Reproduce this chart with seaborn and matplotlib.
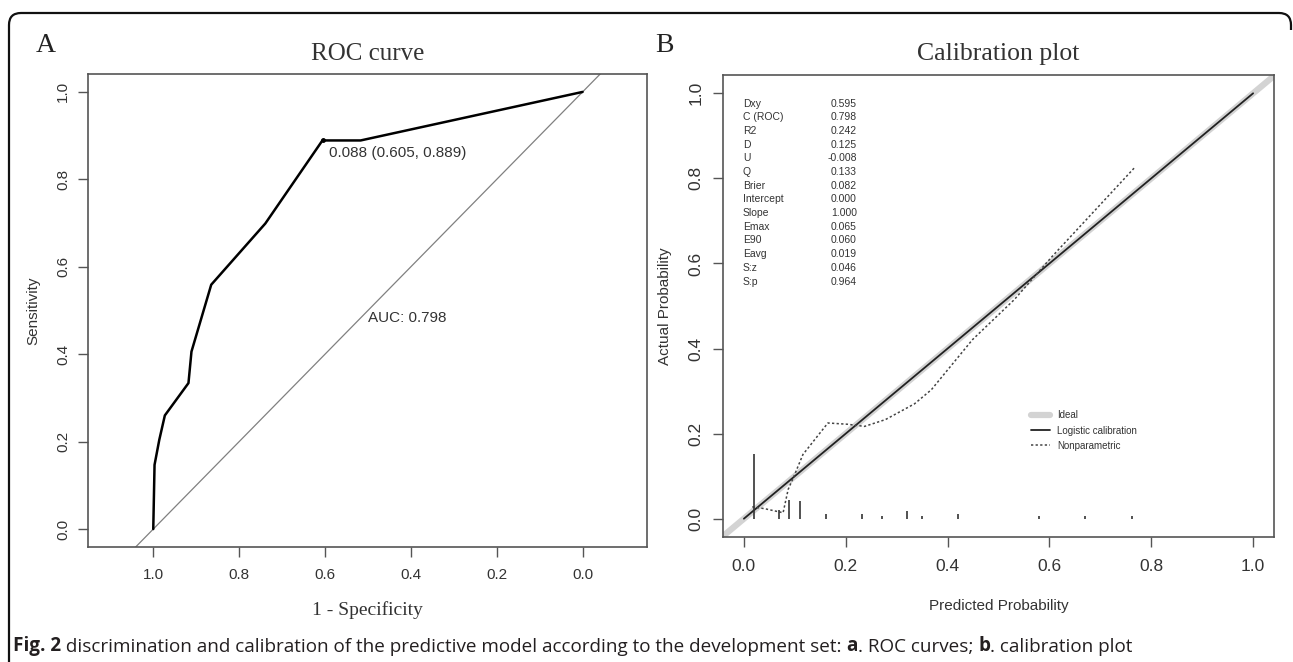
import numpy as np
import pandas as pd
import seaborn as sns
import matplotlib.pyplot as plt
from matplotlib.path import Path
from matplotlib.patches import PathPatch

# ROC curve (panel A)
roc_spec = [1.0, 0.997, 0.986, 0.973, 0.918, 0.911, 0.865, 0.739, 0.606, 0.517, 0.0]
roc_sens = [0.0, 0.147, 0.204, 0.260, 0.334, 0.406, 0.559, 0.699, 0.889, 0.889, 1.0]
best_thr, best_spec, best_sens = 0.088, 0.605, 0.889
auc = 0.798

# calibration (panel B)
np_pred = [0.0165, 0.041, 0.077, 0.087, 0.097, 0.116, 0.165, 0.204, 0.237, 0.278,
           0.335, 0.368, 0.449, 0.531, 0.605, 0.767]
np_obs = [0.028, 0.0235, 0.014, 0.069, 0.096, 0.151, 0.225, 0.222, 0.217, 0.233,
          0.270, 0.303, 0.421, 0.515, 0.616, 0.825]
logit_pred = [0.0, 1.0]
logit_obs = [0.0, 1.0]
spike_x = [0.019, 0.0695, 0.088, 0.1105, 0.161, 0.231, 0.2715, 0.32, 0.35, 0.421, 0.5805, 0.670, 0.762]
spike_h = [0.151, 0.020, 0.043, 0.042, 0.010, 0.010, 0.006, 0.017, 0.006, 0.010, 0.006, 0.006, 0.006]
stat_names = ["Dxy", "C (ROC)", "R2", "D", "U", "Q", "Brier", "Intercept", "Slope",
              "Emax", "E90", "Eavg", "S:z", "S:p"]
stat_vals = ["0.595", "0.798", "0.242", "0.125", "-0.008", "0.133", "0.082", "0.000",
             "1.000", "0.065", "0.060", "0.019", "0.046", "0.964"]
ticks = [0.0, 0.2, 0.4, 0.6, 0.8, 1.0]

sns.set_style("ticks")
plt.rcParams['font.family'] = ['Liberation Sans', 'DejaVu Sans']
serif = ['Liberation Serif', 'DejaVu Serif']
dark = "#333333"
spine_c = "#555555"

fig = plt.figure(figsize=(12.93, 6.62), dpi=100)
W, H = 1293, 662
axA = fig.add_axes([88 / W, 1 - 547 / H, 559 / W, 473 / H])
axB = fig.add_axes([723 / W, 1 - 537 / H, 551 / W, 462 / H])

for ax in (axA, axB):
    for s in ax.spines.values():
        s.set_color(spine_c)
        s.set_linewidth(1.2)
    ax.tick_params(length=7, width=1, color=spine_c, labelcolor=dark)

# ---- panel A
roc = pd.DataFrame({"spec": roc_spec, "sens": roc_sens})
diag = np.array([1.3, -0.3])
sns.lineplot(x=diag, y=1 - diag, ax=axA, color="#808080", linewidth=0.9)
sns.lineplot(data=roc, x="spec", y="sens", sort=False, estimator=None, ax=axA,
             color="black", linewidth=1.8)
axA.plot([best_spec], [best_sens], "o", color="black", ms=2.5)
axA.text(best_spec - 0.015, best_sens - 0.012, f"{best_thr:.3f} ({best_spec:.3f}, {best_sens:.3f})",
         ha="left", va="top", fontsize=11, color=dark)
axA.text(0.5, 0.483, f"AUC: {auc:.3f}", ha="left", va="center", fontsize=11, color=dark)
axA.set_xlim(1.152, -0.150)
axA.set_ylim(-0.041, 1.041)
axA.set_xticks(ticks)
axA.set_yticks(ticks)
axA.set_xticklabels([f"{t:.1f}" for t in ticks], fontsize=11)
axA.set_yticklabels([f"{t:.1f}" for t in ticks], fontsize=11, rotation=90, va="center")
axA.tick_params(axis="x", pad=8)
axA.tick_params(axis="y", pad=6)
axA.set_xlabel("1 - Specificity", family=serif, fontsize=14, color=dark, labelpad=14)
axA.set_ylabel("Sensitivity", fontsize=11, color=dark, labelpad=11)
axA.set_title("ROC curve", family=serif, fontsize=18, color=dark, pad=10)

# ---- panel B
sns.lineplot(x=[-0.1, 1.1], y=[-0.1, 1.1], ax=axB, color="#d3d3d3", linewidth=4.5,
             label="Ideal")
sns.lineplot(x=logit_pred, y=logit_obs, ax=axB, color="#222222", linewidth=1.3,
             label="Logistic calibration")
sns.lineplot(x=np_pred, y=np_obs, sort=False, estimator=None, ax=axB, color="#444444",
             linewidth=1.1, linestyle=(0, (1.5, 1.5)), label="Nonparametric")
axB.vlines(spike_x, 0, spike_h, color="#333333", linewidth=1.2)
for i, (n, v) in enumerate(zip(stat_names, stat_vals)):
    y = 0.976 - i * 0.0322
    axB.text(-0.002, y, n, ha="left", va="center", fontsize=7.5, color=dark)
    axB.text(0.222, y, v, ha="right", va="center", fontsize=7.5, color=dark)
axB.legend(loc="upper left", bbox_to_anchor=(0.550, 0.285), frameon=False, fontsize=7,
           handlelength=2.0, handletextpad=0.7, labelspacing=0.55, borderpad=0,
           labelcolor=dark)
axB.set_xlim(-0.041, 1.041)
axB.set_ylim(-0.043, 1.043)
axB.set_xticks(ticks)
axB.set_yticks(ticks)
axB.set_xticklabels([f"{t:.1f}" for t in ticks], fontsize=12.5)
axB.set_yticklabels([f"{t:.1f}" for t in ticks], fontsize=12.5, rotation=90, va="center")
axB.tick_params(axis="x", pad=9)
axB.tick_params(axis="y", pad=7)
axB.set_xlabel("Predicted Probability", fontsize=11, color=dark, labelpad=18)
axB.set_ylabel("Actual Probability", fontsize=11, color=dark, labelpad=12)
axB.set_title("Calibration plot", family=serif, fontsize=18.5, color=dark, pad=11)

fig.text(36 / W, 1 - 45 / H, "A", family=serif, fontsize=20, ha="left", va="center", color="#222222")
fig.text(655 / W, 1 - 45 / H, "B", family=serif, fontsize=20, ha="left", va="center", color="#222222")

# rounded frame around the figure (open at the bottom)
r = 12
verts = [(9, -2), (9, H - 13 - r), (9, H - 13), (9 + r, H - 13), (W - 2 - r, H - 13),
         (W - 2, H - 13), (W - 2, H - 13 - r), (W - 2, H - 30)]
codes = [Path.MOVETO, Path.LINETO, Path.CURVE3, Path.CURVE3, Path.LINETO,
         Path.CURVE3, Path.CURVE3, Path.LINETO]
frame = Path([(x / W, y / H) for x, y in verts], codes)
fig.add_artist(PathPatch(frame, transform=fig.transFigure, fill=False, lw=1.6, edgecolor="#111111"))

# caption with bold parts
cap = [("Fig. 2", "bold"),
       (" discrimination and calibration of the predictive model according to the development set: ", "normal"),
       ("a", "bold"), (". ROC curves; ", "normal"), ("b", "bold"), (". calibration plot", "normal")]
cap_font = ["Open Sans", "DejaVu Sans"]
prev = fig.text(13 / W, 11 / H, cap[0][0], fontweight=cap[0][1], family=cap_font,
                fontsize=13.6, ha="left", va="baseline", color="#231f20")
for txt, wt in cap[1:]:
    prev = axA.annotate(txt, xy=(1, 0), xycoords=prev, ha="left", va="bottom",
                        fontweight=wt, family=cap_font, fontsize=13.6,
                        color="#231f20", annotation_clip=False)

fig.savefig("out.png", dpi=100)
